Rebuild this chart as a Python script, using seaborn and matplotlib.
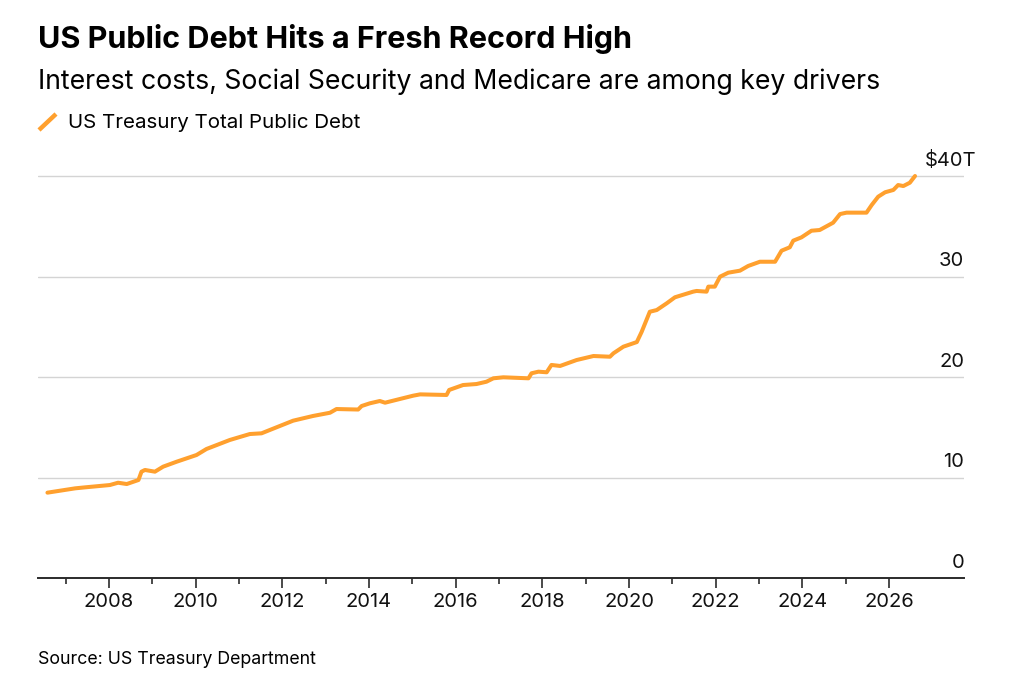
import numpy as np
import pandas as pd
import seaborn as sns
import matplotlib.pyplot as plt
from matplotlib.lines import Line2D
from matplotlib import transforms

# debt in trillions of dollars (decimal years)
years = [2006.58, 2007.22, 2007.45, 2008.02, 2008.21, 2008.41, 2008.68, 2008.75, 2008.83,
         2009.06, 2009.25, 2009.56, 2010.02, 2010.25, 2010.79, 2011.25, 2011.52, 2011.71,
         2012.25, 2012.71, 2013.10, 2013.25, 2013.75, 2013.83, 2014.02, 2014.25, 2014.37,
         2015.02, 2015.18, 2015.79, 2015.85, 2016.17, 2016.48, 2016.71, 2016.87, 2017.10,
         2017.68, 2017.75, 2017.91, 2018.10, 2018.21, 2018.41, 2018.79, 2019.18, 2019.56,
         2019.64, 2019.87, 2020.18, 2020.29, 2020.48, 2020.64, 2020.87, 2021.06, 2021.48,
         2021.56, 2021.79, 2021.83, 2021.98, 2022.10, 2022.29, 2022.56, 2022.75, 2023.02,
         2023.37, 2023.52, 2023.71, 2023.79, 2023.98, 2024.21, 2024.40, 2024.71, 2024.87,
         2025.02, 2025.48, 2025.60, 2025.75, 2025.91, 2026.10, 2026.21, 2026.33, 2026.48,
         2026.60]
debt = [8.50, 8.93, 9.03, 9.26, 9.49, 9.36, 9.76, 10.59, 10.76,
        10.59, 11.09, 11.58, 12.25, 12.85, 13.75, 14.34, 14.41, 14.74,
        15.67, 16.14, 16.46, 16.83, 16.78, 17.13, 17.40, 17.63, 17.46,
        18.16, 18.29, 18.23, 18.73, 19.22, 19.32, 19.55, 19.89, 19.99,
        19.89, 20.39, 20.55, 20.49, 21.22, 21.12, 21.71, 22.11, 22.04,
        22.38, 23.04, 23.50, 24.50, 26.52, 26.69, 27.36, 27.96, 28.52,
        28.59, 28.52, 29.02, 29.02, 30.01, 30.41, 30.61, 31.08, 31.50,
        31.50, 32.60, 32.94, 33.60, 33.93, 34.59, 34.66, 35.39, 36.25,
        36.39, 36.39, 37.15, 37.98, 38.42, 38.65, 39.14, 39.04, 39.37,
        40.04]

y_ticks = [0, 10, 20, 30, 40]
y_labels = ["0", "10", "20", "30", "$40T"]
x_major = [2008, 2010, 2012, 2014, 2016, 2018, 2020, 2022, 2024, 2026]
x_minor = [2007, 2009, 2011, 2013, 2015, 2017, 2019, 2021, 2023, 2025]

df = pd.DataFrame({"year": years, "debt": debt})

sns.set_theme(style="white")
plt.rcParams["font.family"] = ["Inter", "DejaVu Sans"]

orange = "#FFA02E"
W, H = 1010, 696
fig = plt.figure(figsize=(W / 100, H / 100), dpi=100)
ymax = 41
top_px = 578 - ymax * 10.04
ax = fig.add_axes([38 / W, 1 - 578 / H, (964 - 38) / W, (578 - top_px) / H])

sns.lineplot(data=df, x="year", y="debt", ax=ax, color=orange, linewidth=2.9)

ax.set_xlim(2006.362, 2027.73)
ax.set_ylim(0, ymax)
ax.set_xlabel("")
ax.set_ylabel("")

for s in ["top", "left", "right"]:
    ax.spines[s].set_visible(False)
ax.spines["bottom"].set_color("#2b2b2b")
ax.spines["bottom"].set_linewidth(1.4)

for v in y_ticks[1:]:
    ax.axhline(v, color="#d4d4d4", linewidth=1, zorder=0)
ax.set_yticks([])

# y labels sit above their gridlines; the unit "T" hangs past the edge
for v, lab in zip(y_ticks, y_labels):
    dx = 9 if lab.endswith("T") else 0
    off = transforms.offset_copy(ax.get_yaxis_transform(), fig=fig, x=dx, y=7.5, units="points")
    ax.text(1.0, v, lab, transform=off, ha="right", va="baseline", fontsize=14.5, color="#111111")

ax.set_xticks(x_major)
ax.set_xticklabels([str(y) for y in x_major])
ax.set_xticks(x_minor, minor=True)
ax.tick_params(axis="x", which="major", length=7, width=1.2, color="#2b2b2b",
               labelsize=14.5, pad=3.5, labelcolor="#111111", bottom=True)
ax.tick_params(axis="x", which="minor", length=4, width=1.2, color="#2b2b2b", bottom=True)

fig.text(38 / W, 1 - 48 / H, "US Public Debt Hits a Fresh Record High",
         fontsize=22, fontweight="bold", ha="left", va="baseline", color="#000000")
fig.text(38 / W, 1 - 89 / H, "Interest costs, Social Security and Medicare are among key drivers",
         fontsize=19.2, ha="left", va="baseline", color="#000000")
fig.add_artist(Line2D([39 / W, 56 / W], [1 - 130 / H, 1 - 114 / H], color=orange,
                      linewidth=3.2, solid_capstyle="butt", transform=fig.transFigure))
fig.text(68 / W, 1 - 128 / H, "US Treasury Total Public Debt",
         fontsize=14.8, ha="left", va="baseline", color="#000000")
fig.text(38 / W, 1 - 664 / H, "Source: US Treasury Department",
         fontsize=12.8, ha="left", va="baseline", color="#000000")

fig.savefig("out.png", dpi=100)
